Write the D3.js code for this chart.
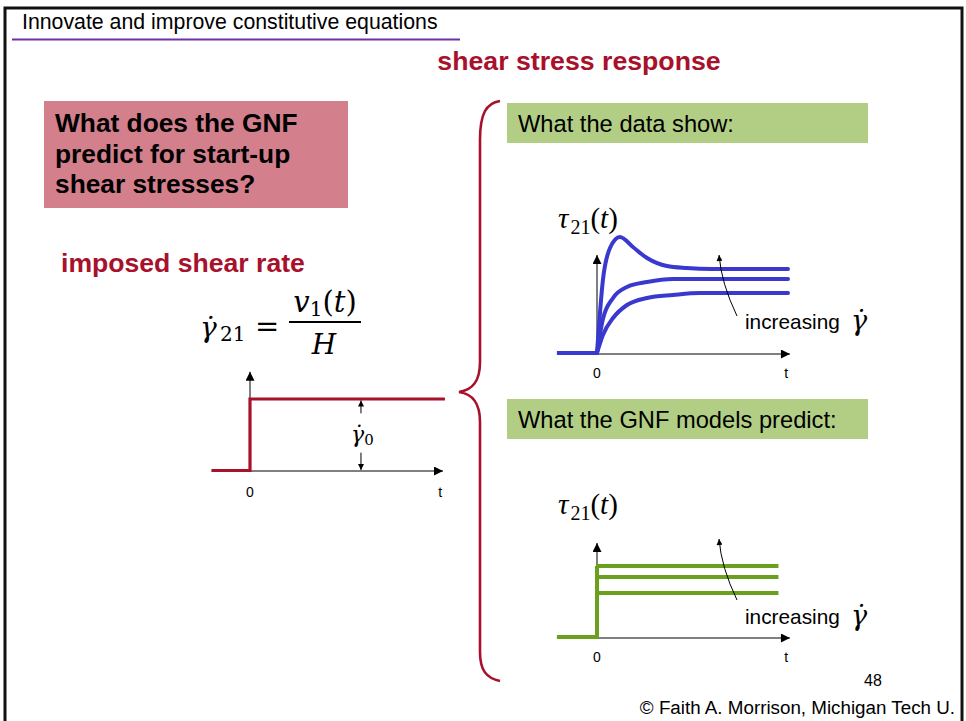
<!DOCTYPE html>
<html><head><meta charset="utf-8">
<script src="https://cdn.jsdelivr.net/npm/d3@7"></script>
<style>body{margin:0;background:#fff}svg{display:block}</style>
</head><body>
<script>
// ---- text content ----
const titleText = "Innovate and improve constitutive equations";
const headingText = "shear stress response";
const questionLines = ["What does the GNF", "predict for start-up", "shear stresses?"];
const inputLabel = "imposed shear rate";
const panelTitles = ["What the data show:", "What the GNF models predict:"];
const tickLabels = ["0", "t"];
const increasingLabel = "increasing";
const footerPage = "48";
const footerCredit = "\u00A9 Faith A. Morrison, Michigan Tech U.";

// ---- imposed shear rate (step) ----
const inputTimes = [-2, 0, 0, 10.1];
const inputRate = [0, 0, 1, 1];

// ---- measured start-up stress (data) ----
const preStartTime = -2.1;
const dataTimesTop = [0, 0.31, 0.68, 1.2, 1.88, 2.62, 3.66, 4.7, 6, 10];
const dataTop      = [0, 73, 105, 116, 106, 95, 87, 85, 84, 84];
const dataTimesMid = [0, 0.31, 0.84, 1.57, 2.62, 3.98, 6, 10];
const dataMid      = [0, 34, 55, 66, 71, 74, 74, 74];
const dataTimesLow = [0, 0.31, 0.84, 1.57, 2.62, 3.98, 5.39, 10];
const dataLow      = [0, 18, 35, 48, 55, 58, 60, 60];

// ---- GNF prediction ----
const gnfLevels = [71, 60, 44];
const gnfEndTime = 9.5;

const W = 966, H = 721;
const RED = "#A8112B", BLUE = "#3939CF", GREEN = "#6B9F1E";
const SANS = "'Liberation Sans', Arial, sans-serif";
const SERIF = "'Liberation Serif', 'Times New Roman', serif";
const MATH = "'DejaVu Serif', serif";

const svg = d3.select("body").append("svg").attr("width", W).attr("height", H);
const defs = svg.append("defs");
defs.append("marker").attr("id", "ah").attr("viewBox", "0 0 10 10")
  .attr("refX", 10).attr("refY", 5).attr("markerWidth", 11).attr("markerHeight", 9)
  .attr("markerUnits", "userSpaceOnUse").attr("orient", "auto")
  .append("path").attr("d", "M0,0 L10,5 L0,10 Z").attr("fill", "#000");
defs.append("marker").attr("id", "ahs").attr("viewBox", "0 0 10 10")
  .attr("refX", 10).attr("refY", 5).attr("markerWidth", 7).attr("markerHeight", 6)
  .attr("markerUnits", "userSpaceOnUse").attr("orient", "auto")
  .append("path").attr("d", "M0,0 L10,5 L0,10 Z").attr("fill", "#000");

// frame
svg.append("rect").attr("x", 5).attr("y", 8).attr("width", 957).attr("height", 800)
  .attr("fill", "none").attr("stroke", "#111").attr("stroke-width", 3);
// title
svg.append("text").attr("x", 22).attr("y", 29).attr("font-family", SANS).attr("font-size", 21.3)
  .attr("fill", "#000").text(titleText);
svg.append("line").attr("x1", 12).attr("x2", 460).attr("y1", 39.5).attr("y2", 39.5)
  .attr("stroke", "#7030A0").attr("stroke-width", 2);

svg.append("text").attr("x", 579).attr("y", 70).attr("text-anchor", "middle")
  .attr("font-family", SANS).attr("font-weight", "bold").attr("font-size", 26.7)
  .attr("fill", RED).text(headingText);

// question box
svg.append("rect").attr("x", 44).attr("y", 101).attr("width", 304).attr("height", 107).attr("fill", "#D47F8C");
svg.append("g").selectAll("text").data(questionLines).join("text")
  .attr("x", 55).attr("y", (d, i) => 132 + i * 30.5)
  .attr("font-family", SANS).attr("font-weight", "bold").attr("font-size", 26.3).attr("fill", "#000")
  .text(d => d);

svg.append("text").attr("x", 61).attr("y", 272).attr("font-family", SANS).attr("font-weight", "bold")
  .attr("font-size", 26.6).attr("fill", RED).text(inputLabel);

// equation
const eq = svg.append("g").attr("font-family", MATH).attr("fill", "#000");
eq.append("text").attr("x", 200).attr("y", 337).attr("font-size", 28).attr("font-style", "italic").text("\u03B3\u0307");
eq.append("text").attr("x", 220).attr("y", 341).attr("font-size", 20).text("21");
eq.append("text").attr("x", 255).attr("y", 336).attr("font-size", 29).text("=");
eq.append("line").attr("x1", 289).attr("x2", 361).attr("y1", 322).attr("y2", 322).attr("stroke", "#000").attr("stroke-width", 2);
const num = eq.append("text").attr("x", 325).attr("y", 312).attr("text-anchor", "middle").attr("font-size", 29);
num.append("tspan").attr("font-style", "italic").text("v");
num.append("tspan").attr("font-size", 20).attr("dy", 4).text("1");
num.append("tspan").attr("dy", -4).text("(");
num.append("tspan").attr("font-style", "italic").text("t");
num.append("tspan").text(")");
eq.append("text").attr("x", 324).attr("y", 354).attr("text-anchor", "middle").attr("font-size", 28)
  .attr("font-style", "italic").text("H");

// ---- input step plot ----
const xIn = d3.scaleLinear().domain([0, 10]).range([250, 443]);
const yIn = d3.scaleLinear().domain([0, 1]).range([470.5, 399]);
const gIn = svg.append("g");
gIn.append("line").attr("x1", xIn(0)).attr("x2", xIn(10)).attr("y1", 471).attr("y2", 471)
  .attr("stroke", "#000").attr("stroke-width", 1).attr("marker-end", "url(#ah)");
gIn.append("line").attr("x1", xIn(0)).attr("x2", xIn(0)).attr("y1", 471).attr("y2", yIn(1.38))
  .attr("stroke", "#000").attr("stroke-width", 1).attr("marker-end", "url(#ah)");
gIn.append("path").datum(inputTimes.map((t, i) => [t, inputRate[i]]))
  .attr("d", d3.line().x(d => xIn(d[0])).y(d => yIn(d[1])))
  .attr("fill", "none").attr("stroke", RED).attr("stroke-width", 3.2);
const xm = xIn(5.75);
gIn.append("line").attr("x1", xm).attr("x2", xm).attr("y1", yIn(0.8)).attr("y2", yIn(1) + 1.5)
  .attr("stroke", "#000").attr("stroke-width", 1).attr("marker-end", "url(#ahs)");
gIn.append("line").attr("x1", xm).attr("x2", xm).attr("y1", yIn(0.25)).attr("y2", 470)
  .attr("stroke", "#000").attr("stroke-width", 1).attr("marker-end", "url(#ahs)");
const g0 = gIn.append("text").attr("x", xm - 10).attr("y", 442).attr("font-family", MATH).attr("font-size", 22);
g0.append("tspan").attr("font-style", "italic").text("\u03B3\u0307");
g0.append("tspan").attr("font-size", 15).attr("dy", 3).text("0");
gIn.append("text").attr("x", xIn(0)).attr("y", 497).attr("text-anchor", "middle").attr("font-family", SANS).attr("font-size", 14).text(tickLabels[0]);
gIn.append("text").attr("x", xIn(9.85)).attr("y", 497).attr("text-anchor", "middle").attr("font-family", SANS).attr("font-size", 14).text(tickLabels[1]);

// ---- brace ----
svg.append("path")
  .attr("d", "M500,101 C486,103 480,114 480,140 L480,362 C480,381 473,390 459,392 C473,394 480,403 480,422 L480,652 C480,670 486,678 500,681")
  .attr("fill", "none").attr("stroke", RED).attr("stroke-width", 2.6);

// ---- panel title boxes ----
const boxY = [103, 399];
panelTitles.forEach((t, i) => {
  svg.append("rect").attr("x", 507).attr("y", boxY[i]).attr("width", 361).attr("height", 40).attr("fill", "#B2CE84");
  svg.append("text").attr("x", 518).attr("y", boxY[i] + 29).attr("font-family", SANS).attr("font-size", 23.7)
    .attr("fill", "#000").text(t);
});

function panel(y0, tauBase) {
  const x = d3.scaleLinear().domain([0, 10]).range([597, 788]);
  const y = d3.scaleLinear().domain([0, 100]).range([y0, y0 - 100]);
  const g = svg.append("g");
  g.append("line").attr("x1", x(0)).attr("x2", x(10.1)).attr("y1", y0 + 1).attr("y2", y0 + 1)
    .attr("stroke", "#000").attr("stroke-width", 1).attr("marker-end", "url(#ah)");
  g.append("line").attr("x1", x(0)).attr("x2", x(0)).attr("y1", y0 + 1).attr("y2", y(tauBase))
    .attr("stroke", "#000").attr("stroke-width", 1).attr("marker-end", "url(#ah)");
  g.append("text").attr("x", x(0)).attr("y", y0 + 25).attr("text-anchor", "middle").attr("font-family", SANS).attr("font-size", 14).text(tickLabels[0]);
  g.append("text").attr("x", x(9.9)).attr("y", y0 + 25).attr("text-anchor", "middle").attr("font-family", SANS).attr("font-size", 14).text(tickLabels[1]);
  return {x, y, g};
}
function tauLabel(g, x, yb) {
  const t = g.append("text").attr("x", x).attr("y", yb).attr("font-family", SERIF).attr("font-size", 29);
  t.append("tspan").attr("font-style", "italic").text("\u03C4");
  t.append("tspan").attr("font-size", 20).attr("dy", 6).attr("dx", 2).text("21");
  t.append("tspan").attr("dy", -6).text("(");
  t.append("tspan").attr("font-style", "italic").text("t");
  t.append("tspan").text(")");
}
function increasing(g, x, y, yb) {
  g.append("path").attr("d", `M${x(7.33)},${y(37)} Q${x(6.5)},${y(70)} ${x(6.39)},${y(98)}`)
    .attr("fill", "none").attr("stroke", "#000").attr("stroke-width", 1).attr("marker-end", "url(#ahs)");
  g.append("text").attr("x", 745).attr("y", yb).attr("font-family", SANS).attr("font-size", 20.8).text(increasingLabel);
  g.append("text").attr("x", 851).attr("y", yb + 1).attr("font-family", MATH).attr("font-style", "italic").attr("font-size", 27).text("\u03B3\u0307");
}

// data panel
const P1 = panel(353, 98);
const lineD = d3.line().x(d => P1.x(d[0])).y(d => P1.y(d[1])).curve(d3.curveMonotoneX);
P1.g.append("line").attr("x1", P1.x(preStartTime)).attr("x2", P1.x(0)).attr("y1", P1.y(0)).attr("y2", P1.y(0))
  .attr("stroke", BLUE).attr("stroke-width", 4);
[[dataTimesTop, dataTop], [dataTimesMid, dataMid], [dataTimesLow, dataLow]].forEach(([ts, vs]) => {
  P1.g.append("path").datum(ts.map((t, i) => [t, vs[i]])).attr("d", lineD)
    .attr("fill", "none").attr("stroke", BLUE).attr("stroke-width", 4).attr("stroke-linecap", "round");
});
tauLabel(P1.g, 558, 228);
increasing(P1.g, P1.x, P1.y, 329);

// GNF panel
const P2 = panel(637, 94);
const lineG = d3.line().x(d => P2.x(d[0])).y(d => P2.y(d[1]));
P2.g.append("path").datum([[preStartTime, 0], [0, 0], [0, d3.max(gnfLevels)]]).attr("d", lineG)
  .attr("fill", "none").attr("stroke", GREEN).attr("stroke-width", 4);
gnfLevels.forEach(v => {
  P2.g.append("path").datum([[-0.05, v], [gnfEndTime, v]]).attr("d", lineG)
    .attr("fill", "none").attr("stroke", GREEN).attr("stroke-width", 4);
});
tauLabel(P2.g, 558, 514);
increasing(P2.g, P2.x, P2.y, 624);

// footer
svg.append("text").attr("x", 873).attr("y", 686).attr("text-anchor", "middle").attr("font-family", SANS).attr("font-size", 16).text(footerPage);
svg.append("text").attr("x", 955).attr("y", 714).attr("text-anchor", "end").attr("font-family", SANS).attr("font-size", 18.8).text(footerCredit);
</script>
</body></html>
